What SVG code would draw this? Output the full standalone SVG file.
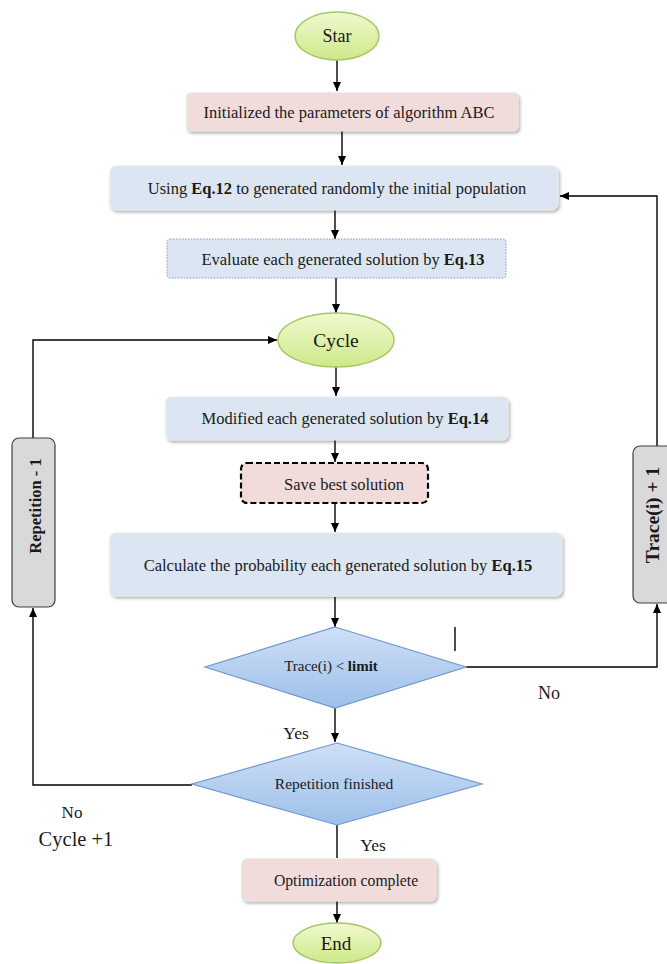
<svg xmlns="http://www.w3.org/2000/svg" width="667" height="964" viewBox="0 0 667 964">
<defs>
<marker id="ah" markerWidth="10" markerHeight="10" refX="9" refY="5" orient="auto" markerUnits="userSpaceOnUse">
<path d="M0,1 L9,5 L0,9 Z" fill="#000"/>
</marker>
<linearGradient id="gGreen" x1="0" y1="0" x2="0" y2="1">
<stop offset="0" stop-color="#f0f9cf"/>
<stop offset="1" stop-color="#cde98a"/>
</linearGradient>
<linearGradient id="gDia" x1="0" y1="0" x2="0" y2="1">
<stop offset="0" stop-color="#cfe0f7"/>
<stop offset="1" stop-color="#9dbfe9"/>
</linearGradient>
<filter id="sh" x="-10%" y="-20%" width="120%" height="150%">
<feDropShadow dx="1.5" dy="2" stdDeviation="1.5" flood-color="#000" flood-opacity="0.3"/>
</filter>
</defs>
<style>
text{font-family:"Liberation Serif","Times New Roman",serif;fill:#1a1a1a;}
.t{font-size:16.5px;text-anchor:middle;}
.e{fill:url(#gGreen);stroke:#a5c765;stroke-width:1.5;}
.pink{fill:#f2dcdb;stroke:#e6e0e0;stroke-width:1;filter:url(#sh);}
.blue{fill:#dce6f2;stroke:#e6e8ec;stroke-width:1;filter:url(#sh);}
.dia{fill:url(#gDia);stroke:#6f97cf;stroke-width:1.2;}
.gray{fill:#d9d9d9;stroke:#404040;stroke-width:1.2;}
.c{fill:none;stroke:#000;stroke-width:1.4;}
.ca{fill:none;stroke:#000;stroke-width:1.4;marker-end:url(#ah);}
</style>
<rect width="667" height="964" fill="#fff"/>

<g id="connectors">
<line class="ca" x1="337" y1="60" x2="337" y2="91"/>
<line class="ca" x1="342" y1="131" x2="342" y2="165"/>
<line class="ca" x1="335" y1="210" x2="335" y2="239"/>
<line class="ca" x1="336" y1="278" x2="336" y2="313"/>
<polyline class="ca" points="33,438 33,340 277,340"/>
<line class="ca" x1="336" y1="367" x2="336" y2="396"/>
<line class="ca" x1="335" y1="440" x2="335" y2="462"/>
<line class="ca" x1="335" y1="503" x2="335" y2="532"/>
<line class="ca" x1="335" y1="597" x2="335" y2="627"/>
<line class="c" x1="455" y1="627" x2="455" y2="651"/>
<polyline class="ca" points="466,667 657,667 657,604"/>
<polyline class="ca" points="657,446 657,196 560,196"/>
<line class="ca" x1="335" y1="708" x2="335" y2="742"/>
<polyline class="ca" points="192,785 33,785 33,608"/>
<line class="c" x1="337" y1="825" x2="337" y2="858"/>
<line class="ca" x1="337" y1="901" x2="337" y2="923"/>
</g>

<g id="start">
<ellipse class="e" cx="337" cy="36" rx="42" ry="24"/>
<text class="t" x="337" y="42" style="font-size:18px">Star</text>
</g>

<g id="init">
<rect class="pink" x="187" y="93" width="331" height="38" rx="4"/>
<text class="t" x="349" y="118">Initialized the parameters of algorithm ABC</text>
</g>

<g id="using">
<rect class="blue" x="110" y="166" width="448" height="44" rx="6"/>
<text class="t" x="337" y="194">Using <tspan font-weight="bold">Eq.12</tspan> to generated randomly the initial population</text>
</g>

<g id="evaluate">
<rect x="167" y="239" width="339" height="39" rx="3" fill="#dce6f2" stroke="#9a8cc8" stroke-width="1" stroke-dasharray="1.5,1.5"/>
<text class="t" x="343" y="265">Evaluate each generated solution by <tspan font-weight="bold">Eq.13</tspan></text>
</g>

<g id="cycle">
<ellipse class="e" cx="336" cy="340" rx="58" ry="27"/>
<text class="t" x="336" y="347" style="font-size:19.5px">Cycle</text>
</g>

<g id="modified">
<rect class="blue" x="166" y="397" width="342" height="43" rx="5"/>
<text class="t" x="345" y="424">Modified each generated solution by <tspan font-weight="bold">Eq.14</tspan></text>
</g>

<g id="save">
<rect x="241" y="463" width="187" height="40" rx="6" fill="#f2dcdb" stroke="#000" stroke-width="2.2" stroke-dasharray="6,3"/>
<text class="t" x="344" y="490">Save best solution</text>
</g>

<g id="calculate">
<rect class="blue" x="110" y="533" width="452" height="63" rx="6"/>
<text class="t" x="338" y="571">Calculate the probability each generated solution by <tspan font-weight="bold">Eq.15</tspan></text>
</g>

<g id="trace-check">
<polygon class="dia" points="335,627 466,667 335,708 205,667"/>
<text class="t" x="331" y="671" style="font-size:15px">Trace(i) &lt; <tspan font-weight="bold">limit</tspan></text>
</g>

<g id="rep-finished">
<polygon class="dia" points="337,743 482,784 337,825 192,784"/>
<text class="t" x="334" y="789" style="font-size:15.5px">Repetition finished</text>
</g>

<g id="trace-inc">
<rect class="gray" x="633" y="446" width="48" height="157" rx="7"/>
<text class="t" transform="translate(659,515) rotate(-90)" x="0" y="0" style="font-size:19.5px;font-weight:bold">Trace(i) + 1</text>
</g>

<g id="rep-dec">
<rect class="gray" x="12" y="438" width="43" height="169" rx="7"/>
<text class="t" transform="translate(41,506) rotate(-90)" x="0" y="0" style="font-size:16.5px;font-weight:bold">Repetition - 1</text>
</g>

<g id="optimization">
<rect class="pink" x="242" y="859" width="194" height="42" rx="5"/>
<text class="t" x="346" y="886" style="font-size:15.7px">Optimization complete</text>
</g>

<g id="end">
<ellipse class="e" cx="337" cy="943" rx="44" ry="20"/>
<text class="t" x="336" y="950" style="font-size:19px">End</text>
</g>

<g id="labels">
<text class="t" x="549" y="699" style="font-size:18px">No</text>
<text class="t" x="296" y="739" style="font-size:17.5px">Yes</text>
<text class="t" x="72" y="818" style="font-size:17px">No</text>
<text class="t" x="76" y="846" style="font-size:20.5px">Cycle +1</text>
<text class="t" x="373" y="851" style="font-size:17.5px">Yes</text>
</g>
</svg>
